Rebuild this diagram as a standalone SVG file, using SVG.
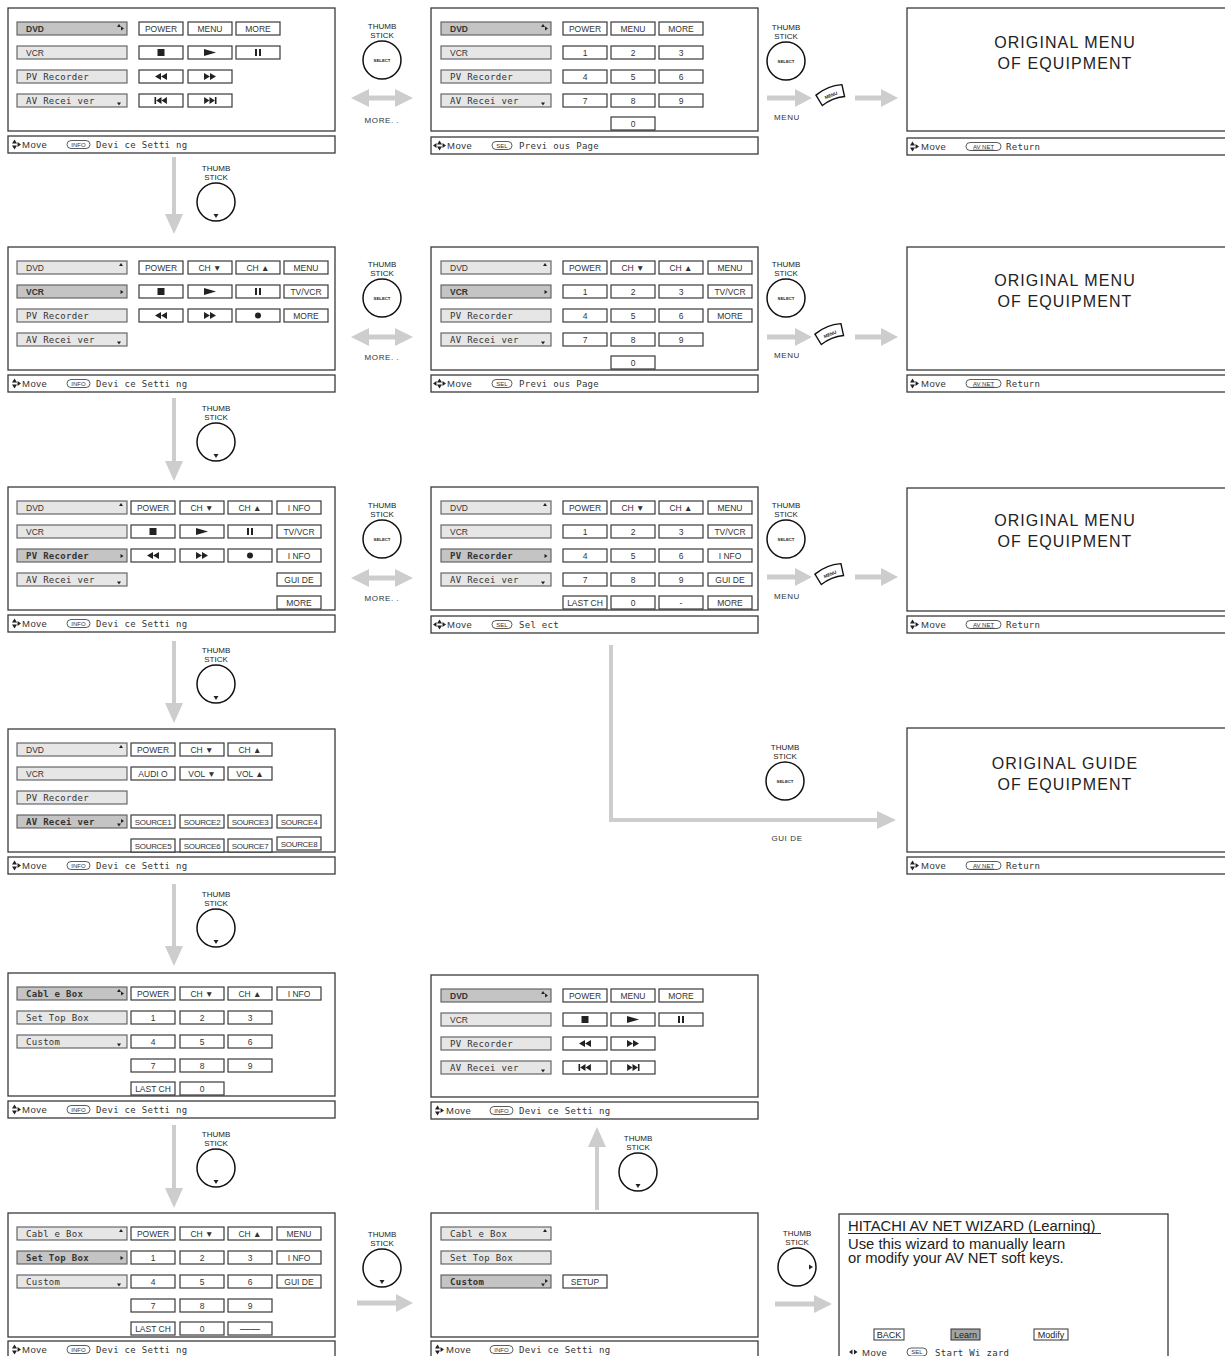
<svg xmlns="http://www.w3.org/2000/svg" width="1225" height="1356" viewBox="0 0 1225 1356">
<style>
.scr{fill:#fff;stroke:#3a3a3a;stroke-width:1.3}
.dev{fill:#e6e6e6;stroke:#5a5a5a;stroke-width:1.1}
.sel{fill:#c4c4c4}
.btn{fill:#fff;stroke:#3a3a3a;stroke-width:1.2}
text{fill:#333}
.bt{font-family:"Liberation Sans",Arial,sans-serif;font-size:8.5px;text-anchor:middle}
.sc{font-family:"Liberation Sans",Arial,sans-serif;font-size:8px;text-anchor:middle;letter-spacing:-0.3px}
.ds{font-family:"Liberation Sans",Arial,sans-serif;font-size:8.5px}
.mt{font-family:"DejaVu Sans Mono",monospace;font-size:9px;letter-spacing:0.3px}
.b{font-weight:bold}
.mv{font-family:"Liberation Sans",Arial,sans-serif;font-size:9.5px;letter-spacing:0.5px}
.bdg{fill:none;stroke:#333;stroke-width:0.8}
.bdt{font-family:"Liberation Sans",Arial,sans-serif;font-size:6px;text-anchor:middle}
.ico{fill:#222}
.arr{fill:#cdcdcd}
.tst{font-family:"Liberation Sans",Arial,sans-serif;font-size:8px;text-anchor:middle;fill:#222}
.slt{font-family:"Liberation Sans",Arial,sans-serif;font-size:4.3px;text-anchor:middle;font-weight:bold;fill:#222}
.lbl{font-family:"Liberation Sans",Arial,sans-serif;font-size:8px;text-anchor:middle;letter-spacing:0.6px}
.big{font-family:"Liberation Sans",Arial,sans-serif;font-size:16px;text-anchor:middle;letter-spacing:1.1px;fill:#222}
.wz{font-family:"Liberation Sans",Arial,sans-serif;font-size:14.8px;fill:#222}
.wb{font-family:"Liberation Sans",Arial,sans-serif;font-size:9px;text-anchor:middle;fill:#222}
</style>
<defs>
<polygon id="m-up" class="ico" points="-2,1.5 0,-1.5 2,1.5"/>
<polygon id="m-dn" class="ico" points="-2,-1.5 0,1.5 2,-1.5"/>
<polygon id="m-rt" class="ico" points="-1.5,-2 1.5,0 -1.5,2"/>
<rect id="i-stop" class="ico" x="-3.5" y="-3.5" width="7" height="7"/>
<polygon id="i-play" class="ico" points="-6,-3.5 6,0 -6,3.5"/>
<g id="i-pause" class="ico"><rect x="-3" y="-3.5" width="2" height="7"/><rect x="1" y="-3.5" width="2" height="7"/></g>
<g id="i-rew" class="ico"><polygon points="-6,0 0,-3.5 0,3.5"/><polygon points="0,0 6,-3.5 6,3.5"/></g>
<g id="i-ff" class="ico"><polygon points="6,0 0,-3.5 0,3.5"/><polygon points="0,0 -6,-3.5 -6,3.5"/></g>
<g id="i-prev" class="ico"><rect x="-6.5" y="-3.5" width="1.6" height="7"/><polygon points="-4.9,0 0.5,-3.5 0.5,3.5"/><polygon points="0.5,0 5.9,-3.5 5.9,3.5"/></g>
<g id="i-next" class="ico"><rect x="4.9" y="-3.5" width="1.6" height="7"/><polygon points="4.9,0 -0.5,-3.5 -0.5,3.5"/><polygon points="-0.5,0 -5.9,-3.5 -5.9,3.5"/></g>
<circle id="i-rec" class="ico" r="3"/>
<g id="mv2" class="ico"><polygon points="0,-1 2.5,-5 5,-1"/><polygon points="0,1 2.5,5 5,1"/><polygon points="5.5,-2.5 9,0 5.5,2.5"/></g>
<g id="mv4" class="ico"><polygon points="0,0 3.5,-2.5 3.5,2.5"/><polygon points="4,-1 6.5,-5 9,-1"/><polygon points="4,1 6.5,5 9,1"/><polygon points="9.5,-2.5 13,0 9.5,2.5"/></g>
<g id="mvlr" class="ico"><polygon points="0,0 3.5,-2.5 3.5,2.5"/><polygon points="5,-2.5 8.5,0 5,2.5"/></g>
<g id="b-info"><rect class="bdg" x="0" y="-4" width="23" height="8" rx="4"/><text class="bdt" x="11.5" y="2.2">INFO</text></g>
<g id="b-sel"><rect class="bdg" x="0" y="-4" width="20" height="8" rx="4"/><text class="bdt" x="10" y="2.2">SEL</text></g>
<g id="b-av"><rect class="bdg" x="0" y="-4" width="35" height="8" rx="4"/><text class="bdt" x="17.5" y="2.2" text-decoration="underline">AV NET</text></g>
<g id="ts"><text class="tst" x="0" y="-31">THUMB</text><text class="tst" x="0" y="-22.5">STICK</text><circle r="19" fill="none" stroke="#111" stroke-width="1.5"/></g>
<g id="ts-sel"><use href="#ts"/><text class="slt" x="0" y="1.5">SELECT</text></g>
<g id="ts-dn"><use href="#ts"/><polygon class="ico" points="-2.5,12 2.5,12 0,16"/></g>
<g id="ts-rt"><use href="#ts"/><polygon class="ico" points="12,-2.5 12,2.5 16,0"/></g>
<g id="menuic"><g transform="rotate(-22)"><path d="M-14,-5.5 Q0,-10 14,-5.5 L12,6.5 Q0,3 -12,6.5 Z" fill="#fff" stroke="#111" stroke-width="1.4"/><text x="0" y="1.8" style="font-family:'Liberation Sans',Arial,sans-serif;font-size:4.6px;text-anchor:middle;font-weight:bold;fill:#222">MENU</text></g></g>
</defs>

<!-- Row 1 left -->
<g id="s1">
<rect class="scr" x="8" y="8" width="327" height="123"/>
<rect class="scr" x="8" y="136" width="327" height="17"/>
<rect class="dev sel" x="17" y="22" width="110" height="13"/><text class="ds b" x="26" y="32">DVD</text><use href="#m-up" x="119" y="25.5"/><use href="#m-rt" x="122.5" y="28.5"/>
<rect class="dev" x="17" y="46" width="110" height="13"/><text class="ds" x="26" y="56">VCR</text>
<rect class="dev" x="17" y="70" width="110" height="13"/><text class="mt" x="26" y="80">PV Recorder</text>
<rect class="dev" x="17" y="94" width="110" height="13"/><text class="mt" x="26" y="104">AV Recei ver</text><use href="#m-dn" x="119" y="104"/>
<rect class="btn" x="139" y="22" width="44" height="13"/><text class="bt" x="161" y="31.5">POWER</text>
<rect class="btn" x="188" y="22" width="44" height="13"/><text class="bt" x="210" y="31.5">MENU</text>
<rect class="btn" x="236" y="22" width="44" height="13"/><text class="bt" x="258" y="31.5">MORE</text>
<rect class="btn" x="139" y="46" width="44" height="13"/><use href="#i-stop" x="161" y="52.5"/>
<rect class="btn" x="188" y="46" width="44" height="13"/><use href="#i-play" x="210" y="52.5"/>
<rect class="btn" x="236" y="46" width="44" height="13"/><use href="#i-pause" x="258" y="52.5"/>
<rect class="btn" x="139" y="70" width="44" height="13"/><use href="#i-rew" x="161" y="76.5"/>
<rect class="btn" x="188" y="70" width="44" height="13"/><use href="#i-ff" x="210" y="76.5"/>
<rect class="btn" x="139" y="94" width="44" height="13"/><use href="#i-prev" x="161" y="100.5"/>
<rect class="btn" x="188" y="94" width="44" height="13"/><use href="#i-next" x="210" y="100.5"/>
<use href="#mv2" x="12" y="144.5"/><text class="mv" x="22" y="148">Move</text><use href="#b-info" x="67" y="144.5"/><text class="mt" x="96" y="148">Devi ce Setti ng</text>
</g>

<!-- Row 1 middle -->
<g id="s2">
<rect class="scr" x="431" y="8" width="327" height="123"/>
<rect class="scr" x="431" y="137" width="327" height="17"/>
<rect class="dev sel" x="441" y="22" width="110" height="13"/><text class="ds b" x="450" y="32">DVD</text><use href="#m-up" x="543" y="25.5"/><use href="#m-rt" x="546.5" y="28.5"/>
<rect class="dev" x="441" y="46" width="110" height="13"/><text class="ds" x="450" y="56">VCR</text>
<rect class="dev" x="441" y="70" width="110" height="13"/><text class="mt" x="450" y="80">PV Recorder</text>
<rect class="dev" x="441" y="94" width="110" height="13"/><text class="mt" x="450" y="104">AV Recei ver</text><use href="#m-dn" x="543" y="104"/>
<rect class="btn" x="563" y="22" width="44" height="13"/><text class="bt" x="585" y="31.5">POWER</text>
<rect class="btn" x="611" y="22" width="44" height="13"/><text class="bt" x="633" y="31.5">MENU</text>
<rect class="btn" x="659" y="22" width="44" height="13"/><text class="bt" x="681" y="31.5">MORE</text>
<rect class="btn" x="563" y="46" width="44" height="13"/><text class="bt" x="585" y="55.5">1</text>
<rect class="btn" x="611" y="46" width="44" height="13"/><text class="bt" x="633" y="55.5">2</text>
<rect class="btn" x="659" y="46" width="44" height="13"/><text class="bt" x="681" y="55.5">3</text>
<rect class="btn" x="563" y="70" width="44" height="13"/><text class="bt" x="585" y="79.5">4</text>
<rect class="btn" x="611" y="70" width="44" height="13"/><text class="bt" x="633" y="79.5">5</text>
<rect class="btn" x="659" y="70" width="44" height="13"/><text class="bt" x="681" y="79.5">6</text>
<rect class="btn" x="563" y="94" width="44" height="13"/><text class="bt" x="585" y="103.5">7</text>
<rect class="btn" x="611" y="94" width="44" height="13"/><text class="bt" x="633" y="103.5">8</text>
<rect class="btn" x="659" y="94" width="44" height="13"/><text class="bt" x="681" y="103.5">9</text>
<rect class="btn" x="611" y="117" width="44" height="13"/><text class="bt" x="633" y="126.5">0</text>
<use href="#mv4" x="433" y="145.5"/><text class="mv" x="447" y="149">Move</text><use href="#b-sel" x="492" y="145.5"/><text class="mt" x="519" y="149">Previ ous Page</text>
</g>

<!-- Row 1 right -->
<g id="s3">
<rect class="scr" x="907" y="8" width="327" height="123"/>
<rect class="scr" x="907" y="138" width="327" height="17"/>
<text class="big" x="1065" y="48">ORIGINAL MENU</text><text class="big" x="1065" y="69">OF EQUIPMENT</text>
<use href="#mv2" x="910" y="146.5"/><text class="mv" x="921" y="150">Move</text><use href="#b-av" x="966" y="146.5"/><text class="mt" x="1006" y="150">Return</text>
</g>

<!-- Row 2 left -->
<g id="s4">
<rect class="scr" x="8" y="247" width="327" height="123"/>
<rect class="scr" x="8" y="375" width="327" height="17"/>
<rect class="dev" x="17" y="261" width="110" height="13"/><text class="ds" x="26" y="271">DVD</text><use href="#m-up" x="121" y="264.5"/>
<rect class="dev sel" x="17" y="285" width="110" height="13"/><text class="ds b" x="26" y="295">VCR</text><use href="#m-rt" x="122" y="292"/>
<rect class="dev" x="17" y="309" width="110" height="13"/><text class="mt" x="26" y="319">PV Recorder</text>
<rect class="dev" x="17" y="333" width="110" height="13"/><text class="mt" x="26" y="343">AV Recei ver</text><use href="#m-dn" x="119" y="343"/>
<rect class="btn" x="139" y="261" width="44" height="13"/><text class="bt" x="161" y="270.5">POWER</text>
<rect class="btn" x="188" y="261" width="44" height="13"/><text class="bt" x="210" y="270.5">CH ▼</text>
<rect class="btn" x="236" y="261" width="44" height="13"/><text class="bt" x="258" y="270.5">CH ▲</text>
<rect class="btn" x="284" y="261" width="44" height="13"/><text class="bt" x="306" y="270.5">MENU</text>
<rect class="btn" x="139" y="285" width="44" height="13"/><use href="#i-stop" x="161" y="291.5"/>
<rect class="btn" x="188" y="285" width="44" height="13"/><use href="#i-play" x="210" y="291.5"/>
<rect class="btn" x="236" y="285" width="44" height="13"/><use href="#i-pause" x="258" y="291.5"/>
<rect class="btn" x="284" y="285" width="44" height="13"/><text class="bt" x="306" y="294.5">TV/VCR</text>
<rect class="btn" x="139" y="309" width="44" height="13"/><use href="#i-rew" x="161" y="315.5"/>
<rect class="btn" x="188" y="309" width="44" height="13"/><use href="#i-ff" x="210" y="315.5"/>
<rect class="btn" x="236" y="309" width="44" height="13"/><use href="#i-rec" x="258" y="315.5"/>
<rect class="btn" x="284" y="309" width="44" height="13"/><text class="bt" x="306" y="318.5">MORE</text>
<use href="#mv2" x="12" y="383.5"/><text class="mv" x="22" y="387">Move</text><use href="#b-info" x="67" y="383.5"/><text class="mt" x="96" y="387">Devi ce Setti ng</text>
</g>

<!-- Row 2 middle -->
<g id="s5">
<rect class="scr" x="431" y="247" width="327" height="123"/>
<rect class="scr" x="431" y="375" width="327" height="17"/>
<rect class="dev" x="441" y="261" width="110" height="13"/><text class="ds" x="450" y="271">DVD</text><use href="#m-up" x="545" y="264.5"/>
<rect class="dev sel" x="441" y="285" width="110" height="13"/><text class="ds b" x="450" y="295">VCR</text><use href="#m-rt" x="546" y="292"/>
<rect class="dev" x="441" y="309" width="110" height="13"/><text class="mt" x="450" y="319">PV Recorder</text>
<rect class="dev" x="441" y="333" width="110" height="13"/><text class="mt" x="450" y="343">AV Recei ver</text><use href="#m-dn" x="543" y="343"/>
<rect class="btn" x="563" y="261" width="44" height="13"/><text class="bt" x="585" y="270.5">POWER</text>
<rect class="btn" x="611" y="261" width="44" height="13"/><text class="bt" x="633" y="270.5">CH ▼</text>
<rect class="btn" x="659" y="261" width="44" height="13"/><text class="bt" x="681" y="270.5">CH ▲</text>
<rect class="btn" x="708" y="261" width="44" height="13"/><text class="bt" x="730" y="270.5">MENU</text>
<rect class="btn" x="563" y="285" width="44" height="13"/><text class="bt" x="585" y="294.5">1</text>
<rect class="btn" x="611" y="285" width="44" height="13"/><text class="bt" x="633" y="294.5">2</text>
<rect class="btn" x="659" y="285" width="44" height="13"/><text class="bt" x="681" y="294.5">3</text>
<rect class="btn" x="708" y="285" width="44" height="13"/><text class="bt" x="730" y="294.5">TV/VCR</text>
<rect class="btn" x="563" y="309" width="44" height="13"/><text class="bt" x="585" y="318.5">4</text>
<rect class="btn" x="611" y="309" width="44" height="13"/><text class="bt" x="633" y="318.5">5</text>
<rect class="btn" x="659" y="309" width="44" height="13"/><text class="bt" x="681" y="318.5">6</text>
<rect class="btn" x="708" y="309" width="44" height="13"/><text class="bt" x="730" y="318.5">MORE</text>
<rect class="btn" x="563" y="333" width="44" height="13"/><text class="bt" x="585" y="342.5">7</text>
<rect class="btn" x="611" y="333" width="44" height="13"/><text class="bt" x="633" y="342.5">8</text>
<rect class="btn" x="659" y="333" width="44" height="13"/><text class="bt" x="681" y="342.5">9</text>
<rect class="btn" x="611" y="356" width="44" height="13"/><text class="bt" x="633" y="365.5">0</text>
<use href="#mv4" x="433" y="383.5"/><text class="mv" x="447" y="387">Move</text><use href="#b-sel" x="492" y="383.5"/><text class="mt" x="519" y="387">Previ ous Page</text>
</g>

<!-- Row 2 right -->
<g id="s6">
<rect class="scr" x="907" y="247" width="327" height="123"/>
<rect class="scr" x="907" y="375" width="327" height="17"/>
<text class="big" x="1065" y="286">ORIGINAL MENU</text><text class="big" x="1065" y="307">OF EQUIPMENT</text>
<use href="#mv2" x="910" y="383.5"/><text class="mv" x="921" y="387">Move</text><use href="#b-av" x="966" y="383.5"/><text class="mt" x="1006" y="387">Return</text>
</g>

<!-- Row 3 left -->
<g id="s7">
<rect class="scr" x="8" y="487" width="327" height="123"/>
<rect class="scr" x="8" y="615" width="327" height="17"/>
<rect class="dev" x="17" y="501" width="110" height="13"/><text class="ds" x="26" y="511">DVD</text><use href="#m-up" x="121" y="504.5"/>
<rect class="dev" x="17" y="525" width="110" height="13"/><text class="ds" x="26" y="535">VCR</text>
<rect class="dev sel" x="17" y="549" width="110" height="13"/><text class="mt b" x="26" y="559">PV Recorder</text><use href="#m-rt" x="122" y="556"/>
<rect class="dev" x="17" y="573" width="110" height="13"/><text class="mt" x="26" y="583">AV Recei ver</text><use href="#m-dn" x="119" y="583"/>
<rect class="btn" x="131" y="501" width="44" height="13"/><text class="bt" x="153" y="510.5">POWER</text>
<rect class="btn" x="180" y="501" width="44" height="13"/><text class="bt" x="202" y="510.5">CH ▼</text>
<rect class="btn" x="228" y="501" width="44" height="13"/><text class="bt" x="250" y="510.5">CH ▲</text>
<rect class="btn" x="277" y="501" width="44" height="13"/><text class="bt" x="299" y="510.5">I NFO</text>
<rect class="btn" x="131" y="525" width="44" height="13"/><use href="#i-stop" x="153" y="531.5"/>
<rect class="btn" x="180" y="525" width="44" height="13"/><use href="#i-play" x="202" y="531.5"/>
<rect class="btn" x="228" y="525" width="44" height="13"/><use href="#i-pause" x="250" y="531.5"/>
<rect class="btn" x="277" y="525" width="44" height="13"/><text class="bt" x="299" y="534.5">TV/VCR</text>
<rect class="btn" x="131" y="549" width="44" height="13"/><use href="#i-rew" x="153" y="555.5"/>
<rect class="btn" x="180" y="549" width="44" height="13"/><use href="#i-ff" x="202" y="555.5"/>
<rect class="btn" x="228" y="549" width="44" height="13"/><use href="#i-rec" x="250" y="555.5"/>
<rect class="btn" x="277" y="549" width="44" height="13"/><text class="bt" x="299" y="558.5">I NFO</text>
<rect class="btn" x="277" y="573" width="44" height="13"/><text class="bt" x="299" y="582.5">GUI DE</text>
<rect class="btn" x="277" y="596" width="44" height="13"/><text class="bt" x="299" y="605.5">MORE</text>
<use href="#mv2" x="12" y="623.5"/><text class="mv" x="22" y="627">Move</text><use href="#b-info" x="67" y="623.5"/><text class="mt" x="96" y="627">Devi ce Setti ng</text>
</g>

<!-- Row 3 middle -->
<g id="s8">
<rect class="scr" x="431" y="487" width="327" height="123"/>
<rect class="scr" x="431" y="616" width="327" height="17"/>
<rect class="dev" x="441" y="501" width="110" height="13"/><text class="ds" x="450" y="511">DVD</text><use href="#m-up" x="545" y="504.5"/>
<rect class="dev" x="441" y="525" width="110" height="13"/><text class="ds" x="450" y="535">VCR</text>
<rect class="dev sel" x="441" y="549" width="110" height="13"/><text class="mt b" x="450" y="559">PV Recorder</text><use href="#m-rt" x="546" y="556"/>
<rect class="dev" x="441" y="573" width="110" height="13"/><text class="mt" x="450" y="583">AV Recei ver</text><use href="#m-dn" x="543" y="583"/>
<rect class="btn" x="563" y="501" width="44" height="13"/><text class="bt" x="585" y="510.5">POWER</text>
<rect class="btn" x="611" y="501" width="44" height="13"/><text class="bt" x="633" y="510.5">CH ▼</text>
<rect class="btn" x="659" y="501" width="44" height="13"/><text class="bt" x="681" y="510.5">CH ▲</text>
<rect class="btn" x="708" y="501" width="44" height="13"/><text class="bt" x="730" y="510.5">MENU</text>
<rect class="btn" x="563" y="525" width="44" height="13"/><text class="bt" x="585" y="534.5">1</text>
<rect class="btn" x="611" y="525" width="44" height="13"/><text class="bt" x="633" y="534.5">2</text>
<rect class="btn" x="659" y="525" width="44" height="13"/><text class="bt" x="681" y="534.5">3</text>
<rect class="btn" x="708" y="525" width="44" height="13"/><text class="bt" x="730" y="534.5">TV/VCR</text>
<rect class="btn" x="563" y="549" width="44" height="13"/><text class="bt" x="585" y="558.5">4</text>
<rect class="btn" x="611" y="549" width="44" height="13"/><text class="bt" x="633" y="558.5">5</text>
<rect class="btn" x="659" y="549" width="44" height="13"/><text class="bt" x="681" y="558.5">6</text>
<rect class="btn" x="708" y="549" width="44" height="13"/><text class="bt" x="730" y="558.5">I NFO</text>
<rect class="btn" x="563" y="573" width="44" height="13"/><text class="bt" x="585" y="582.5">7</text>
<rect class="btn" x="611" y="573" width="44" height="13"/><text class="bt" x="633" y="582.5">8</text>
<rect class="btn" x="659" y="573" width="44" height="13"/><text class="bt" x="681" y="582.5">9</text>
<rect class="btn" x="708" y="573" width="44" height="13"/><text class="bt" x="730" y="582.5">GUI DE</text>
<rect class="btn" x="563" y="596" width="44" height="13"/><text class="bt" x="585" y="605.5">LAST CH</text>
<rect class="btn" x="611" y="596" width="44" height="13"/><text class="bt" x="633" y="605.5">0</text>
<rect class="btn" x="659" y="596" width="44" height="13"/><text class="bt" x="681" y="605.5">-</text>
<rect class="btn" x="708" y="596" width="44" height="13"/><text class="bt" x="730" y="605.5">MORE</text>
<use href="#mv4" x="433" y="624.5"/><text class="mv" x="447" y="628">Move</text><use href="#b-sel" x="492" y="624.5"/><text class="mt" x="519" y="628">Sel ect</text>
</g>

<!-- Row 3 right -->
<g id="s9">
<rect class="scr" x="907" y="488" width="327" height="123"/>
<rect class="scr" x="907" y="616" width="327" height="17"/>
<text class="big" x="1065" y="526">ORIGINAL MENU</text><text class="big" x="1065" y="547">OF EQUIPMENT</text>
<use href="#mv2" x="910" y="624.5"/><text class="mv" x="921" y="628">Move</text><use href="#b-av" x="966" y="624.5"/><text class="mt" x="1006" y="628">Return</text>
</g>

<!-- Row 4 left -->
<g id="s10">
<rect class="scr" x="8" y="729" width="327" height="123"/>
<rect class="scr" x="8" y="857" width="327" height="17"/>
<rect class="dev" x="17" y="743" width="110" height="13"/><text class="ds" x="26" y="753">DVD</text><use href="#m-up" x="121" y="746.5"/>
<rect class="dev" x="17" y="767" width="110" height="13"/><text class="ds" x="26" y="777">VCR</text>
<rect class="dev" x="17" y="791" width="110" height="13"/><text class="mt" x="26" y="801">PV Recorder</text>
<rect class="dev sel" x="17" y="815" width="110" height="13"/><text class="mt b" x="26" y="825">AV Recei ver</text><use href="#m-dn" x="119" y="825"/><use href="#m-rt" x="122.5" y="821"/>
<rect class="btn" x="131" y="743" width="44" height="13"/><text class="bt" x="153" y="752.5">POWER</text>
<rect class="btn" x="180" y="743" width="44" height="13"/><text class="bt" x="202" y="752.5">CH ▼</text>
<rect class="btn" x="228" y="743" width="44" height="13"/><text class="bt" x="250" y="752.5">CH ▲</text>
<rect class="btn" x="131" y="767" width="44" height="13"/><text class="bt" x="153" y="776.5">AUDI O</text>
<rect class="btn" x="180" y="767" width="44" height="13"/><text class="bt" x="202" y="776.5">VOL ▼</text>
<rect class="btn" x="228" y="767" width="44" height="13"/><text class="bt" x="250" y="776.5">VOL ▲</text>
<rect class="btn" x="131" y="815" width="44" height="13"/><text class="sc" x="153" y="824.5">SOURCE1</text>
<rect class="btn" x="180" y="815" width="44" height="13"/><text class="sc" x="202" y="824.5">SOURCE2</text>
<rect class="btn" x="228" y="815" width="44" height="13"/><text class="sc" x="250" y="824.5">SOURCE3</text>
<rect class="btn" x="277" y="815" width="44" height="13"/><text class="sc" x="299" y="824.5">SOURCE4</text>
<rect class="btn" x="131" y="839" width="44" height="13"/><text class="sc" x="153" y="848.5">SOURCE5</text>
<rect class="btn" x="180" y="839" width="44" height="13"/><text class="sc" x="202" y="848.5">SOURCE6</text>
<rect class="btn" x="228" y="839" width="44" height="13"/><text class="sc" x="250" y="848.5">SOURCE7</text>
<rect class="btn" x="277" y="837" width="44" height="13"/><text class="sc" x="299" y="846.5">SOURCE8</text>
<use href="#mv2" x="12" y="865.5"/><text class="mv" x="22" y="869">Move</text><use href="#b-info" x="67" y="865.5"/><text class="mt" x="96" y="869">Devi ce Setti ng</text>
</g>

<!-- Row 4 right -->
<g id="s15">
<rect class="scr" x="907" y="728" width="327" height="124"/>
<rect class="scr" x="907" y="857" width="327" height="17"/>
<text class="big" x="1065" y="769">ORIGINAL GUIDE</text><text class="big" x="1065" y="790">OF EQUIPMENT</text>
<use href="#mv2" x="910" y="865.5"/><text class="mv" x="921" y="869">Move</text><use href="#b-av" x="966" y="865.5"/><text class="mt" x="1006" y="869">Return</text>
</g>

<!-- Row 5 left -->
<g id="s11">
<rect class="scr" x="8" y="973" width="327" height="123"/>
<rect class="scr" x="8" y="1101" width="327" height="17"/>
<rect class="dev sel" x="17" y="987" width="110" height="13"/><text class="mt b" x="26" y="997">Cabl e Box</text><use href="#m-up" x="119" y="990.5"/><use href="#m-rt" x="122.5" y="993.5"/>
<rect class="dev" x="17" y="1011" width="110" height="13"/><text class="mt" x="26" y="1021">Set Top Box</text>
<rect class="dev" x="17" y="1035" width="110" height="13"/><text class="mt" x="26" y="1045">Custom</text><use href="#m-dn" x="119" y="1045"/>
<rect class="btn" x="131" y="987" width="44" height="13"/><text class="bt" x="153" y="996.5">POWER</text>
<rect class="btn" x="180" y="987" width="44" height="13"/><text class="bt" x="202" y="996.5">CH ▼</text>
<rect class="btn" x="228" y="987" width="44" height="13"/><text class="bt" x="250" y="996.5">CH ▲</text>
<rect class="btn" x="277" y="987" width="44" height="13"/><text class="bt" x="299" y="996.5">I NFO</text>
<rect class="btn" x="131" y="1011" width="44" height="13"/><text class="bt" x="153" y="1020.5">1</text>
<rect class="btn" x="180" y="1011" width="44" height="13"/><text class="bt" x="202" y="1020.5">2</text>
<rect class="btn" x="228" y="1011" width="44" height="13"/><text class="bt" x="250" y="1020.5">3</text>
<rect class="btn" x="131" y="1035" width="44" height="13"/><text class="bt" x="153" y="1044.5">4</text>
<rect class="btn" x="180" y="1035" width="44" height="13"/><text class="bt" x="202" y="1044.5">5</text>
<rect class="btn" x="228" y="1035" width="44" height="13"/><text class="bt" x="250" y="1044.5">6</text>
<rect class="btn" x="131" y="1059" width="44" height="13"/><text class="bt" x="153" y="1068.5">7</text>
<rect class="btn" x="180" y="1059" width="44" height="13"/><text class="bt" x="202" y="1068.5">8</text>
<rect class="btn" x="228" y="1059" width="44" height="13"/><text class="bt" x="250" y="1068.5">9</text>
<rect class="btn" x="131" y="1082" width="44" height="13"/><text class="bt" x="153" y="1091.5">LAST CH</text>
<rect class="btn" x="180" y="1082" width="44" height="13"/><text class="bt" x="202" y="1091.5">0</text>
<use href="#mv2" x="12" y="1109.5"/><text class="mv" x="22" y="1113">Move</text><use href="#b-info" x="67" y="1109.5"/><text class="mt" x="96" y="1113">Devi ce Setti ng</text>
</g>

<!-- Row 5 middle -->
<g id="s12">
<rect class="scr" x="431" y="975" width="327" height="122"/>
<rect class="scr" x="431" y="1102" width="327" height="17"/>
<rect class="dev sel" x="441" y="989" width="110" height="13"/><text class="ds b" x="450" y="999">DVD</text><use href="#m-up" x="543" y="992.5"/><use href="#m-rt" x="546.5" y="995.5"/>
<rect class="dev" x="441" y="1013" width="110" height="13"/><text class="ds" x="450" y="1023">VCR</text>
<rect class="dev" x="441" y="1037" width="110" height="13"/><text class="mt" x="450" y="1047">PV Recorder</text>
<rect class="dev" x="441" y="1061" width="110" height="13"/><text class="mt" x="450" y="1071">AV Recei ver</text><use href="#m-dn" x="543" y="1071"/>
<rect class="btn" x="563" y="989" width="44" height="13"/><text class="bt" x="585" y="998.5">POWER</text>
<rect class="btn" x="611" y="989" width="44" height="13"/><text class="bt" x="633" y="998.5">MENU</text>
<rect class="btn" x="659" y="989" width="44" height="13"/><text class="bt" x="681" y="998.5">MORE</text>
<rect class="btn" x="563" y="1013" width="44" height="13"/><use href="#i-stop" x="585" y="1019.5"/>
<rect class="btn" x="611" y="1013" width="44" height="13"/><use href="#i-play" x="633" y="1019.5"/>
<rect class="btn" x="659" y="1013" width="44" height="13"/><use href="#i-pause" x="681" y="1019.5"/>
<rect class="btn" x="563" y="1037" width="44" height="13"/><use href="#i-rew" x="585" y="1043.5"/>
<rect class="btn" x="611" y="1037" width="44" height="13"/><use href="#i-ff" x="633" y="1043.5"/>
<rect class="btn" x="563" y="1061" width="44" height="13"/><use href="#i-prev" x="585" y="1067.5"/>
<rect class="btn" x="611" y="1061" width="44" height="13"/><use href="#i-next" x="633" y="1067.5"/>
<use href="#mv2" x="435" y="1110.5"/><text class="mv" x="446" y="1114">Move</text><use href="#b-info" x="490" y="1110.5"/><text class="mt" x="519" y="1114">Devi ce Setti ng</text>
</g>

<!-- Row 6 left -->
<g id="s13">
<rect class="scr" x="8" y="1213" width="327" height="124"/>
<rect class="scr" x="8" y="1341" width="327" height="17"/>
<rect class="dev" x="17" y="1227" width="110" height="13"/><text class="mt" x="26" y="1237">Cabl e Box</text><use href="#m-up" x="121" y="1230.5"/>
<rect class="dev sel" x="17" y="1251" width="110" height="13"/><text class="mt b" x="26" y="1261">Set Top Box</text><use href="#m-rt" x="122" y="1258"/>
<rect class="dev" x="17" y="1275" width="110" height="13"/><text class="mt" x="26" y="1285">Custom</text><use href="#m-dn" x="119" y="1285"/>
<rect class="btn" x="131" y="1227" width="44" height="13"/><text class="bt" x="153" y="1236.5">POWER</text>
<rect class="btn" x="180" y="1227" width="44" height="13"/><text class="bt" x="202" y="1236.5">CH ▼</text>
<rect class="btn" x="228" y="1227" width="44" height="13"/><text class="bt" x="250" y="1236.5">CH ▲</text>
<rect class="btn" x="277" y="1227" width="44" height="13"/><text class="bt" x="299" y="1236.5">MENU</text>
<rect class="btn" x="131" y="1251" width="44" height="13"/><text class="bt" x="153" y="1260.5">1</text>
<rect class="btn" x="180" y="1251" width="44" height="13"/><text class="bt" x="202" y="1260.5">2</text>
<rect class="btn" x="228" y="1251" width="44" height="13"/><text class="bt" x="250" y="1260.5">3</text>
<rect class="btn" x="277" y="1251" width="44" height="13"/><text class="bt" x="299" y="1260.5">I NFO</text>
<rect class="btn" x="131" y="1275" width="44" height="13"/><text class="bt" x="153" y="1284.5">4</text>
<rect class="btn" x="180" y="1275" width="44" height="13"/><text class="bt" x="202" y="1284.5">5</text>
<rect class="btn" x="228" y="1275" width="44" height="13"/><text class="bt" x="250" y="1284.5">6</text>
<rect class="btn" x="277" y="1275" width="44" height="13"/><text class="bt" x="299" y="1284.5">GUI DE</text>
<rect class="btn" x="131" y="1299" width="44" height="13"/><text class="bt" x="153" y="1308.5">7</text>
<rect class="btn" x="180" y="1299" width="44" height="13"/><text class="bt" x="202" y="1308.5">8</text>
<rect class="btn" x="228" y="1299" width="44" height="13"/><text class="bt" x="250" y="1308.5">9</text>
<rect class="btn" x="131" y="1322" width="44" height="13"/><text class="bt" x="153" y="1331.5">LAST CH</text>
<rect class="btn" x="180" y="1322" width="44" height="13"/><text class="bt" x="202" y="1331.5">0</text>
<rect class="btn" x="228" y="1322" width="44" height="13"/><text class="bt" x="250" y="1331.5" style="font-size:10px">——</text>
<use href="#mv2" x="12" y="1349.5"/><text class="mv" x="22" y="1353">Move</text><use href="#b-info" x="67" y="1349.5"/><text class="mt" x="96" y="1353">Devi ce Setti ng</text>
</g>

<!-- Row 6 middle -->
<g id="s14">
<rect class="scr" x="431" y="1213" width="327" height="124"/>
<rect class="scr" x="431" y="1341" width="327" height="17"/>
<rect class="dev" x="441" y="1227" width="110" height="13"/><text class="mt" x="450" y="1237">Cabl e Box</text><use href="#m-up" x="545" y="1230.5"/>
<rect class="dev" x="441" y="1251" width="110" height="13"/><text class="mt" x="450" y="1261">Set Top Box</text>
<rect class="dev sel" x="441" y="1275" width="110" height="13"/><text class="mt b" x="450" y="1285">Custom</text><use href="#m-dn" x="543" y="1285"/><use href="#m-rt" x="546.5" y="1281"/>
<rect class="btn" x="563" y="1275" width="44" height="13"/><text class="bt" x="585" y="1284.5">SETUP</text>
<use href="#mv2" x="435" y="1349.5"/><text class="mv" x="446" y="1353">Move</text><use href="#b-info" x="490" y="1349.5"/><text class="mt" x="519" y="1353">Devi ce Setti ng</text>
</g>

<!-- Wizard -->
<g id="wizard">
<rect class="scr" x="839" y="1214" width="329" height="150"/>
<text class="wz" x="848" y="1231">HITACHI AV NET WIZARD (Learning)</text>
<line x1="848" y1="1233.5" x2="1101" y2="1233.5" stroke="#222" stroke-width="1"/>
<text class="wz" x="848" y="1249">Use this wizard to manually learn</text>
<text class="wz" x="848" y="1263">or modify your AV NET soft keys.</text>
<rect x="874" y="1329" width="30" height="11" fill="#fff" stroke="#333" stroke-width="1"/><text class="wb" x="889" y="1338">BACK</text>
<rect x="951" y="1329" width="29" height="11" fill="#a3a3a3" stroke="#333" stroke-width="1"/><text class="wb" x="965.5" y="1338">Learn</text>
<rect x="1034" y="1329" width="34" height="11" fill="#fff" stroke="#333" stroke-width="1"/><text class="wb" x="1051" y="1338">Modify</text>
<use href="#mvlr" x="849" y="1352"/><text class="mv" x="862" y="1355.5">Move</text><use href="#b-sel" x="907" y="1352"/><text class="mt" x="935" y="1355.5">Start Wi zard</text>
</g>

<!-- Connectors -->
<g id="connectors">
<path class="arr" d="M172,157 H176 V214 H183 L174,234 L165,214 H172 Z"/>
<path class="arr" d="M172,398 H176 V461 H183 L174,481 L165,461 H172 Z"/>
<path class="arr" d="M172,641 H176 V703 H183 L174,723 L165,703 H172 Z"/>
<path class="arr" d="M172,884 H176 V946 H183 L174,966 L165,946 H172 Z"/>
<path class="arr" d="M172,1125 H176 V1188 H183 L174,1208 L165,1188 H172 Z"/>
<path class="arr" d="M351,98 L369,89 V95.5 H395 V89 L413,98 L395,107 V100.5 H369 V107 Z"/>
<path class="arr" d="M351,337 L369,328 V334.5 H395 V328 L413,337 L395,346 V339.5 H369 V346 Z"/>
<path class="arr" d="M351,578 L369,569 V575.5 H395 V569 L413,578 L395,587 V580.5 H369 V587 Z"/>
<path class="arr" d="M767,95.5 H795 V89 L812,98 L795,107 V100.5 H767 Z"/>
<path class="arr" d="M855,95.5 H881 V89 L898,98 L881,107 V100.5 H855 Z"/>
<path class="arr" d="M767,334.5 H795 V328 L812,337 L795,346 V339.5 H767 Z"/>
<path class="arr" d="M855,334.5 H881 V328 L898,337 L881,346 V339.5 H855 Z"/>
<path class="arr" d="M767,574.5 H795 V568 L812,577 L795,586 V579.5 H767 Z"/>
<path class="arr" d="M855,574.5 H881 V568 L898,577 L881,586 V579.5 H855 Z"/>
<path class="arr" d="M609,645 H613 V818 H877 V811 L896,820 L877,829 V822 H609 Z"/>
<path class="arr" d="M357,1300.5 H396 V1294 L413,1303 L396,1312 V1305.5 H357 Z"/>
<path class="arr" d="M775,1301.5 H814 V1295 L832,1304 L814,1313 V1306.5 H775 Z"/>
<path class="arr" d="M595,1210 V1147 H588 L597,1127 L606,1147 H599 V1210 Z"/>
</g>

<!-- Thumb sticks and labels -->
<g id="controls">
<use href="#ts-sel" x="382" y="60"/><text class="lbl" x="382" y="123">MORE. .</text>
<use href="#ts-sel" x="786" y="61"/><text class="lbl" x="787" y="120">MENU</text><use href="#menuic" x="831" y="95"/>
<use href="#ts-sel" x="382" y="298"/><text class="lbl" x="382" y="360">MORE. .</text>
<use href="#ts-sel" x="786" y="298"/><text class="lbl" x="787" y="358">MENU</text><use href="#menuic" x="830" y="334"/>
<use href="#ts-sel" x="382" y="539"/><text class="lbl" x="382" y="601">MORE. .</text>
<use href="#ts-sel" x="786" y="539"/><text class="lbl" x="787" y="599">MENU</text><use href="#menuic" x="830" y="574"/>
<use href="#ts-sel" x="785" y="781"/><text class="lbl" x="787" y="841">GUI DE</text>
<use href="#ts-dn" x="216" y="202"/>
<use href="#ts-dn" x="216" y="442"/>
<use href="#ts-dn" x="216" y="684"/>
<use href="#ts-dn" x="216" y="928"/>
<use href="#ts-dn" x="216" y="1168"/>
<use href="#ts-dn" x="382" y="1268"/>
<use href="#ts-dn" x="638" y="1172"/>
<use href="#ts-rt" x="797" y="1267"/>
</g>
</svg>
